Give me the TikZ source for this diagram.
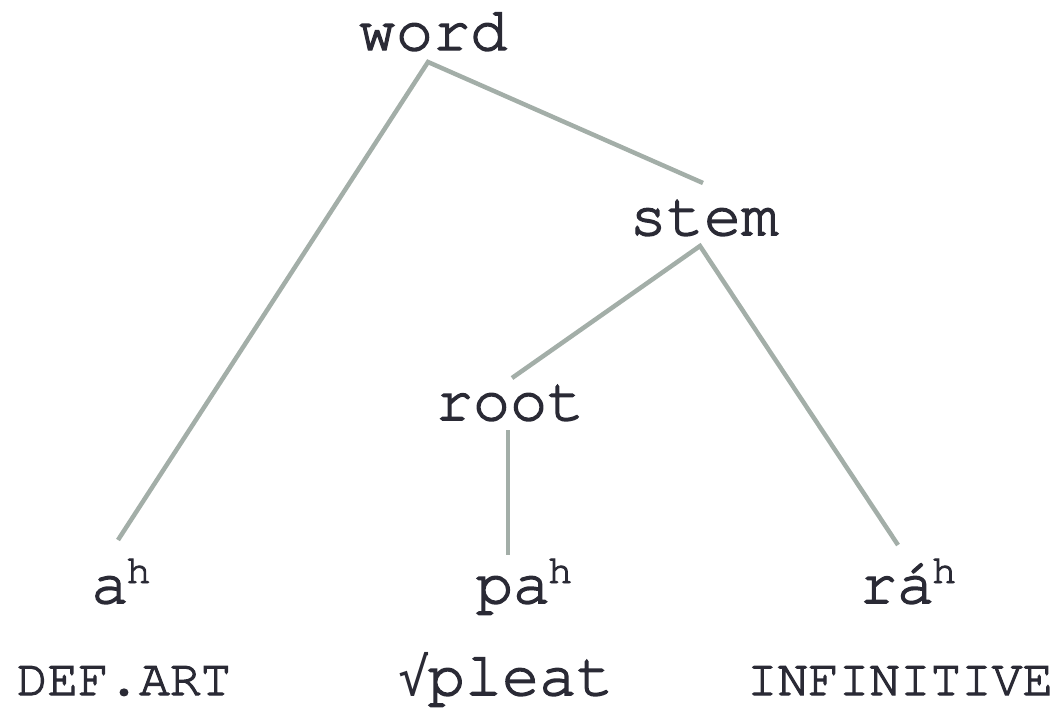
\documentclass[tikz,border=0pt]{standalone}
\usepackage{fontspec}
\setmainfont{TeX Gyre Cursor}[FakeBold=2.4]
\newfontfamily\symf{DejaVu Sans Mono}
\definecolor{txt}{HTML}{2A2A35}
\definecolor{edge}{HTML}{A3AEA8}
\newcommand{\suph}{\kern-2pt\raisebox{20pt}{\fontsize{40}{40}\selectfont h}}
\begin{document}
\begin{tikzpicture}[x=1pt,y=-1pt,
  lab/.style={anchor=base,inner sep=0pt,text=txt,font=\fontsize{62}{62}\selectfont},
  gloss/.style={anchor=base,inner sep=0pt,text=txt,font=\fontsize{51}{51}\selectfont},
  branch/.style={draw=edge,line width=4.5pt}]
\useasboundingbox (0,0) rectangle (1052,707);
\node[lab] (word) at (433,50) {word};
\node[lab] (stem) at (704,235) {stem};
\node[lab] (root) at (510,420) {root};
\node[lab] (a) at (121,603) {a\suph};
\node[lab] (pa) at (524,603) {pa\suph};
\node[lab] (ra) at (908,603) {rá\suph};
\node[gloss] (g1) at (124,695) {DEF.ART};
\node[lab] (g2) at (506,695) {{\symf\fontsize{52}{52}\selectfont √}\kern-2pt pleat};
\node[gloss] (g3) at (900,695) {INFINITIVE};
\coordinate (wordS) at (428,62);
\coordinate (stemN) at (703,183);
\coordinate (stemS) at (700,246);
\coordinate (rootN) at (512,378);
\coordinate (rootS) at (508,430);
\coordinate (aN) at (118,540);
\coordinate (paN) at (508,555);
\coordinate (raN) at (898,545);
\draw[branch] (aN) -- (wordS) -- (stemN);
\draw[branch] (rootN) -- (stemS) -- (raN);
\draw[branch] (rootS) -- (paN);
\end{tikzpicture}
\end{document}
